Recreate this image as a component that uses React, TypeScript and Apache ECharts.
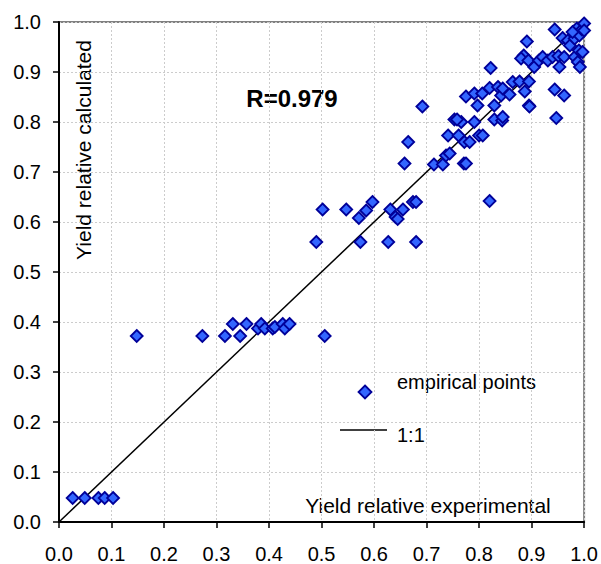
import React, { useEffect, useRef } from "react";
import * as echarts from "echarts";

// Empirical points: relative yield experimental (x) vs calculated (y)
const yieldExperimental = [
  0.026, 0.049, 0.075, 0.087, 0.103,
  0.148, 0.273, 0.316, 0.331, 0.345, 0.357, 0.379, 0.385, 0.392, 0.407, 0.411, 0.426, 0.43, 0.439, 0.506,
  0.49, 0.502, 0.547, 0.571, 0.574, 0.585, 0.597, 0.627, 0.631, 0.641, 0.645, 0.655, 0.674, 0.68, 0.68, 0.658, 0.665, 0.692,
  0.714, 0.731, 0.737, 0.744, 0.741, 0.753, 0.761, 0.766, 0.771, 0.775, 0.772, 0.782, 0.791, 0.8, 0.807, 0.775, 0.797, 0.82, 0.829, 0.844, 0.829, 0.758,
  0.791, 0.806, 0.82, 0.822, 0.836, 0.842, 0.845, 0.858, 0.864, 0.877, 0.887, 0.895, 0.895, 0.845, 0.896,
  0.885, 0.88, 0.891, 0.894, 0.905, 0.914, 0.921, 0.931, 0.94, 0.944, 0.944, 0.947, 0.951, 0.953, 0.959, 0.962, 0.962,
  0.969, 0.973, 0.982, 0.982, 0.986, 0.988, 0.99, 0.991, 0.992, 0.996, 0.997, 1.0, 0.978, 1.0,
];
const yieldCalculated = [
  0.048, 0.048, 0.048, 0.048, 0.048,
  0.372, 0.372, 0.372, 0.396, 0.372, 0.396, 0.387, 0.396, 0.387, 0.387, 0.39, 0.396, 0.387, 0.396, 0.372,
  0.56, 0.625, 0.625, 0.608, 0.56, 0.623, 0.64, 0.56, 0.625, 0.61, 0.606, 0.625, 0.64, 0.64, 0.56, 0.717, 0.76, 0.831,
  0.715, 0.715, 0.733, 0.737, 0.773, 0.805, 0.773, 0.8, 0.717, 0.717, 0.76, 0.76, 0.8, 0.773, 0.773, 0.851, 0.833, 0.642, 0.805, 0.803, 0.833, 0.805,
  0.857, 0.857, 0.868, 0.908, 0.87, 0.853, 0.867, 0.855, 0.88, 0.881, 0.861, 0.881, 0.833, 0.81, 0.831,
  0.933, 0.927, 0.961, 0.923, 0.91, 0.923, 0.93, 0.923, 0.93, 0.985, 0.865, 0.808, 0.932, 0.91, 0.968, 0.93, 0.853,
  0.963, 0.953, 0.967, 0.93, 0.987, 0.92, 0.943, 0.973, 0.91, 0.985, 0.94, 0.997, 0.98, 0.983,
];

const identityLine = [0, 1];

const seriesNames = ["empirical points", "1:1"];
const xTitle = "Yield relative experimental";
const yTitle = "Yield relative calculated";
const rLabel = "R=0.979";

const FONT = "'Liberation Sans', Arial, sans-serif";
const MARKER_FILL = "#3366ff";
const MARKER_EDGE = "#000099";

export default function App() {
  const ref = useRef<HTMLDivElement>(null);

  useEffect(() => {
    document.body.style.margin = "0";
    if (!ref.current) return;
    const chart = echarts.init(ref.current, undefined, { renderer: "svg" });

    const points = yieldExperimental.map((x, i) => [x, yieldCalculated[i]]);
    const line = identityLine.map((v) => [v, v]);

    const axisCommon = {
      type: "value" as const,
      min: 0,
      max: 1,
      interval: 0.1,
      axisLine: { show: true, onZero: false, lineStyle: { color: "#000", width: 2 } },
      axisTick: { show: true, inside: false, length: 6, lineStyle: { color: "#000", width: 1.5 } },
      splitLine: { show: true, lineStyle: { color: "#cccccc", type: [2, 2] as any, width: 1 } },
      axisLabel: {
        color: "#000",
        fontSize: 20,
        fontFamily: FONT,
        formatter: (v: number) => v.toFixed(1),
      },
    };

    chart.setOption({
      animation: false,
      backgroundColor: "#fff",
      grid: {
        left: 59,
        right: 16,
        top: 22,
        bottom: 42,
        show: true,
        borderColor: "#808080",
        borderWidth: 2,
        backgroundColor: "transparent",
      },
      xAxis: { ...axisCommon, axisLabel: { ...axisCommon.axisLabel, margin: 22 } },
      yAxis: { ...axisCommon, axisLabel: { ...axisCommon.axisLabel, margin: 18 } },
      series: [
        {
          name: seriesNames[1],
          type: "line",
          data: line,
          showSymbol: false,
          symbol: "none",
          lineStyle: { color: "#000", width: 1.5 },
          z: 2,
        },
        {
          name: seriesNames[0],
          type: "scatter",
          data: points,
          symbol: "diamond",
          symbolSize: 12,
          clip: false,
          itemStyle: { color: MARKER_FILL, borderColor: MARKER_EDGE, borderWidth: 1.8, opacity: 1 },
          z: 3,
        },
      ],
      graphic: [
        {
          type: "text",
          x: 83,
          y: 150,
          rotation: Math.PI / 2,
          style: { text: yTitle, fontSize: 21, fontFamily: FONT, fill: "#000", align: "center", verticalAlign: "middle" },
        },
        {
          type: "text",
          x: 428,
          y: 505,
          style: { text: xTitle, fontSize: 21, fontFamily: FONT, fill: "#000", align: "center", verticalAlign: "middle" },
        },
        {
          type: "text",
          x: 292,
          y: 98,
          style: { text: rLabel, fontSize: 24, fontWeight: "bold", fontFamily: FONT, fill: "#000", align: "center", verticalAlign: "middle" },
        },
        {
          type: "polygon",
          shape: { points: [[365, 385.5], [371.5, 392], [365, 398.5], [358.5, 392]] },
          style: { fill: MARKER_FILL, stroke: MARKER_EDGE, lineWidth: 1.8 },
        },
        {
          type: "text",
          x: 397,
          y: 382,
          style: { text: seriesNames[0], fontSize: 20, fontFamily: FONT, fill: "#000", align: "left", verticalAlign: "middle" },
        },
        {
          type: "line",
          shape: { x1: 340, y1: 430, x2: 387, y2: 430 },
          style: { stroke: "#000", lineWidth: 1.5 },
        },
        {
          type: "text",
          x: 397,
          y: 435,
          style: { text: seriesNames[1], fontSize: 20, fontFamily: FONT, fill: "#000", align: "left", verticalAlign: "middle" },
        },
      ],
    });

    return () => chart.dispose();
  }, []);

  return <div ref={ref} style={{ width: 601, height: 564 }} />;
}
